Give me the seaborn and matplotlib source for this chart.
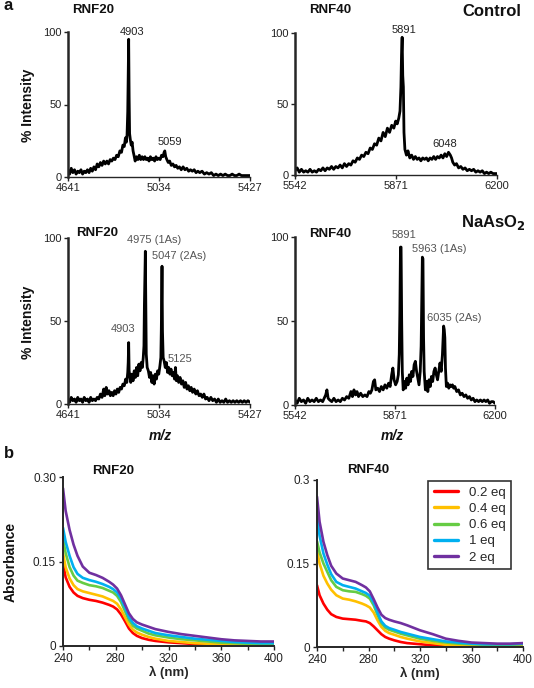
import matplotlib
matplotlib.use("Agg")
import matplotlib.pyplot as plt
import seaborn as sns
import pandas as pd

# ===============================
# DATA
# ===============================
# mass spectra: (m/z, % intensity)
ms_rnf20_ctrl = [
    (4641, 5), (4648, 2), (4655, 6), (4662, 3), (4669, 5), (4676, 2), (4683, 4), (4690, 3),
    (4697, 5), (4704, 2), (4711, 4), (4718, 3), (4725, 5), (4732, 3), (4739, 6), (4746, 4),
    (4753, 7), (4760, 5), (4767, 9), (4774, 7), (4781, 10), (4788, 8), (4795, 11), (4802, 9),
    (4809, 11), (4816, 9), (4823, 12), (4830, 11), (4837, 13), (4844, 12), (4851, 15), (4858, 14),
    (4865, 18), (4872, 17), (4878, 22), (4884, 21), (4889, 27), (4893, 24), (4896, 29), (4899, 45),
    (4901, 70), (4903, 95), (4905, 55), (4907, 30), (4910, 26), (4914, 22), (4918, 24), (4922, 18),
    (4926, 15), (4931, 11), (4937, 14), (4943, 12), (4949, 15), (4955, 12), (4961, 14), (4967, 12),
    (4973, 14), (4979, 12), (4985, 13), (4991, 11), (4997, 14), (5003, 12), (5009, 13), (5015, 11),
    (5021, 14), (5027, 12), (5033, 13), (5039, 12), (5045, 15), (5051, 14), (5056, 17), (5059, 18),
    (5063, 14), (5068, 12), (5074, 10), (5080, 11), (5087, 8), (5094, 9), (5101, 7), (5108, 8),
    (5115, 6), (5122, 7), (5130, 5), (5138, 7), (5146, 5), (5154, 6), (5162, 4), (5170, 5),
    (5178, 4), (5186, 5), (5194, 3), (5202, 4), (5210, 3), (5220, 4), (5230, 2), (5240, 3),
    (5250, 2), (5260, 3), (5270, 1), (5280, 2), (5290, 1), (5300, 2), (5310, 1), (5320, 2),
    (5330, 1), (5340, 1), (5350, 2), (5360, 1), (5370, 1), (5380, 2), (5390, 1), (5400, 1),
    (5410, 1), (5420, 1), (5427, 1),
]

ms_rnf40_ctrl = [
    (5542, 3), (5549, 5), (5556, 2), (5563, 4), (5570, 2), (5577, 3), (5584, 2), (5591, 4),
    (5598, 2), (5605, 3), (5612, 2), (5619, 4), (5626, 3), (5633, 5), (5640, 3), (5647, 5),
    (5654, 4), (5661, 6), (5668, 4), (5675, 6), (5682, 5), (5689, 7), (5696, 5), (5703, 8),
    (5710, 6), (5717, 8), (5724, 7), (5731, 10), (5738, 9), (5745, 12), (5752, 11), (5759, 14),
    (5766, 13), (5773, 16), (5780, 15), (5787, 19), (5794, 18), (5801, 22), (5808, 21), (5815, 26),
    (5822, 24), (5829, 30), (5836, 27), (5843, 33), (5850, 30), (5857, 35), (5864, 33), (5870, 38),
    (5875, 36), (5880, 40), (5884, 45), (5887, 62), (5889, 85), (5891, 97), (5893, 70), (5895, 62),
    (5897, 30), (5900, 18), (5905, 14), (5910, 17), (5916, 12), (5922, 14), (5928, 11), (5934, 13),
    (5940, 11), (5946, 12), (5952, 10), (5958, 12), (5964, 11), (5970, 12), (5976, 10), (5982, 12),
    (5988, 11), (5994, 13), (6000, 11), (6006, 13), (6012, 12), (6018, 14), (6024, 12), (6030, 15),
    (6036, 13), (6042, 16), (6048, 14), (6052, 12), (6056, 9), (6062, 7), (6068, 8), (6075, 5),
    (6082, 6), (6089, 4), (6096, 5), (6103, 3), (6110, 4), (6117, 3), (6124, 4), (6131, 2),
    (6138, 3), (6145, 2), (6152, 3), (6159, 1), (6166, 2), (6173, 1), (6180, 2), (6187, 1),
    (6194, 1), (6200, 1),
]

ms_rnf20_as = [
    (4641, 3), (4648, 1), (4655, 4), (4662, 2), (4669, 3), (4676, 1), (4683, 4), (4690, 2),
    (4697, 3), (4704, 1), (4711, 4), (4718, 2), (4725, 3), (4732, 1), (4739, 4), (4746, 2),
    (4753, 3), (4760, 2), (4767, 4), (4774, 3), (4781, 6), (4788, 4), (4795, 9), (4800, 5),
    (4806, 10), (4812, 6), (4818, 8), (4824, 5), (4830, 7), (4836, 5), (4842, 8), (4848, 6),
    (4854, 9), (4860, 7), (4866, 10), (4872, 9), (4878, 12), (4884, 11), (4890, 15), (4895, 13),
    (4899, 19), (4901, 25), (4903, 37), (4905, 20), (4908, 17), (4912, 13), (4917, 18), (4922, 14),
    (4927, 20), (4932, 16), (4937, 22), (4942, 17), (4947, 24), (4952, 20), (4957, 25), (4962, 22),
    (4966, 28), (4969, 35), (4971, 60), (4973, 75), (4975, 92), (4977, 58), (4979, 30), (4983, 22),
    (4988, 20), (4993, 16), (4998, 19), (5003, 13), (5008, 17), (5013, 12), (5018, 18), (5023, 15),
    (5028, 20), (5033, 18), (5038, 23), (5042, 28), (5044, 45), (5047, 83), (5049, 44), (5052, 28),
    (5056, 26), (5061, 22), (5066, 25), (5071, 19), (5076, 22), (5081, 18), (5086, 21), (5091, 17),
    (5096, 19), (5101, 15), (5105, 22), (5109, 14), (5114, 17), (5119, 13), (5125, 16), (5131, 12),
    (5137, 14), (5143, 10), (5149, 13), (5155, 9), (5161, 11), (5167, 8), (5173, 10), (5179, 7),
    (5186, 9), (5193, 6), (5200, 8), (5207, 5), (5214, 6), (5221, 4), (5228, 6), (5235, 3),
    (5242, 4), (5250, 2), (5258, 4), (5266, 2), (5274, 3), (5282, 1), (5290, 3), (5298, 1),
    (5306, 2), (5314, 1), (5322, 3), (5330, 1), (5338, 2), (5346, 1), (5354, 2), (5362, 1),
    (5370, 2), (5378, 1), (5386, 2), (5394, 1), (5402, 2), (5410, 1), (5418, 2), (5427, 1),
]

ms_rnf40_as = [
    (5542, 3), (5549, 1), (5556, 4), (5563, 2), (5570, 3), (5577, 1), (5584, 4), (5591, 2),
    (5598, 3), (5605, 2), (5612, 4), (5619, 2), (5626, 3), (5633, 2), (5638, 4), (5643, 6),
    (5647, 9), (5651, 4), (5656, 3), (5663, 2), (5670, 4), (5677, 2), (5684, 3), (5691, 2),
    (5698, 4), (5705, 3), (5712, 5), (5719, 4), (5726, 8), (5731, 5), (5736, 9), (5741, 6),
    (5746, 8), (5751, 5), (5758, 7), (5765, 5), (5772, 6), (5779, 5), (5785, 8), (5790, 7),
    (5795, 9), (5800, 14), (5804, 15), (5808, 9), (5814, 10), (5820, 8), (5826, 11), (5832, 9),
    (5838, 12), (5844, 10), (5850, 13), (5855, 11), (5860, 18), (5864, 22), (5868, 15), (5873, 12),
    (5878, 14), (5882, 18), (5885, 30), (5887, 55), (5889, 94), (5891, 94), (5893, 50), (5895, 20),
    (5898, 9), (5902, 14), (5906, 10), (5910, 16), (5914, 12), (5918, 18), (5922, 14), (5926, 20),
    (5930, 17), (5934, 24), (5938, 26), (5942, 20), (5946, 16), (5950, 12), (5954, 20), (5957, 35),
    (5959, 60), (5961, 88), (5963, 87), (5965, 40), (5967, 20), (5971, 9), (5975, 14), (5979, 8),
    (5983, 15), (5987, 11), (5991, 17), (5995, 14), (5999, 20), (6003, 22), (6007, 18), (6011, 15),
    (6015, 20), (6019, 25), (6023, 20), (6027, 30), (6031, 47), (6033, 45), (6035, 40), (6037, 22),
    (6040, 11), (6044, 13), (6048, 10), (6052, 12), (6056, 11), (6060, 12), (6064, 10), (6068, 11),
    (6074, 8), (6080, 9), (6086, 6), (6092, 7), (6098, 5), (6104, 6), (6110, 4), (6116, 5),
    (6122, 3), (6128, 4), (6134, 2), (6140, 3), (6146, 2), (6152, 3), (6158, 2), (6164, 3),
    (6170, 2), (6176, 3), (6182, 1), (6188, 2), (6194, 2), (6200, 1),
]

# peak labels: (text, m/z, intensity, ha)
peaks_rnf20_ctrl = [("4903", 4917, 100, "center"), ("5059", 5082, 24, "center")]
peaks_rnf40_ctrl = [("5891", 5897, 102, "center"), ("6048", 6031, 22, "center")]
peaks_rnf20_as = [("4975 (1As)", 4896, 99, "left"), ("5047 (2As)", 5004, 89, "left"),
                  ("4903", 4879, 45, "center"), ("5125", 5125, 27, "center")]
peaks_rnf40_as = [("5891", 5901, 101, "center"), ("5963 (1As)", 5927, 93, "left"),
                  ("6035 (2As)", 5976, 52, "left")]

# UV-vis titration
wavelength = [240, 242, 245, 248, 251, 255, 260, 265, 270, 275, 278, 281, 284, 287, 290,
              293, 296, 300, 305, 310, 320, 330, 340, 350, 360, 370, 380, 390, 400]
eq_labels = ["0.2 eq", "0.4 eq", "0.6 eq", "1 eq", "2 eq"]
eq_colors = ["#ff0000", "#ffc000", "#66cc44", "#00b0f0", "#7030a0"]

uv_rnf20 = {
    "0.2 eq": [0.147, 0.122, 0.105, 0.095, 0.089, 0.085, 0.082, 0.080, 0.077, 0.073, 0.070, 0.065,
               0.056, 0.044, 0.031, 0.023, 0.018, 0.014, 0.011, 0.009, 0.0065, 0.005, 0.0035,
               0.003, 0.002, 0.0015, 0.001, 0.001, 0.001],
    "0.4 eq": [0.165, 0.140, 0.120, 0.108, 0.101, 0.097, 0.094, 0.091, 0.088, 0.083, 0.080, 0.075,
               0.065, 0.051, 0.038, 0.029, 0.024, 0.020, 0.016, 0.013, 0.009, 0.007, 0.005,
               0.004, 0.003, 0.002, 0.001, 0.001, 0.000],
    "0.6 eq": [0.190, 0.165, 0.140, 0.125, 0.116, 0.112, 0.108, 0.106, 0.103, 0.098, 0.095, 0.089,
               0.078, 0.062, 0.046, 0.036, 0.031, 0.027, 0.022, 0.019, 0.015, 0.012, 0.010,
               0.008, 0.006, 0.005, 0.004, 0.003, 0.003],
    "1 eq":   [0.210, 0.185, 0.160, 0.140, 0.128, 0.121, 0.117, 0.114, 0.110, 0.105, 0.101, 0.095,
               0.084, 0.068, 0.051, 0.041, 0.035, 0.031, 0.027, 0.023, 0.019, 0.016, 0.013,
               0.011, 0.009, 0.007, 0.006, 0.005, 0.005],
    "2 eq":   [0.280, 0.240, 0.206, 0.180, 0.160, 0.141, 0.130, 0.126, 0.121, 0.114, 0.109, 0.102,
               0.090, 0.074, 0.058, 0.048, 0.042, 0.038, 0.034, 0.030, 0.025, 0.021, 0.018,
               0.015, 0.012, 0.010, 0.009, 0.008, 0.008],
}
uv_rnf40 = {
    "0.2 eq": [0.111, 0.093, 0.078, 0.067, 0.059, 0.054, 0.051, 0.050, 0.049, 0.047, 0.046, 0.043,
               0.037, 0.030, 0.023, 0.018, 0.015, 0.012, 0.009, 0.007, 0.005, 0.003, 0.002,
               0.0015, 0.001, 0.001, 0.001, 0.001, 0.001],
    "0.4 eq": [0.174, 0.150, 0.128, 0.114, 0.103, 0.093, 0.087, 0.085, 0.082, 0.078, 0.075, 0.071,
               0.062, 0.048, 0.036, 0.029, 0.025, 0.022, 0.018, 0.015, 0.010, 0.007, 0.004,
               0.003, 0.002, 0.001, 0.001, 0.001, 0.001],
    "0.6 eq": [0.190, 0.170, 0.150, 0.135, 0.120, 0.108, 0.102, 0.100, 0.099, 0.095, 0.092, 0.087,
               0.075, 0.058, 0.043, 0.035, 0.031, 0.028, 0.024, 0.021, 0.015, 0.011, 0.008,
               0.006, 0.005, 0.004, 0.004, 0.004, 0.005],
    "1 eq":   [0.234, 0.200, 0.168, 0.148, 0.131, 0.117, 0.111, 0.108, 0.105, 0.100, 0.097, 0.092,
               0.080, 0.062, 0.046, 0.038, 0.034, 0.031, 0.027, 0.024, 0.018, 0.014, 0.010,
               0.008, 0.006, 0.005, 0.005, 0.005, 0.006],
    "2 eq":   [0.270, 0.225, 0.189, 0.165, 0.146, 0.132, 0.123, 0.120, 0.117, 0.111, 0.107, 0.100,
               0.086, 0.071, 0.058, 0.052, 0.049, 0.046, 0.043, 0.039, 0.030, 0.023, 0.015,
               0.011, 0.008, 0.007, 0.006, 0.006, 0.007],
}

# ===============================
# STYLE
# ===============================
sns.set_style("ticks")
plt.rcParams["font.family"] = ["Liberation Sans", "DejaVu Sans"]
plt.rcParams["axes.linewidth"] = 1.0

W, H = 534, 688
fig = plt.figure(figsize=(W / 100, H / 100), dpi=100)


def fx(px):
    return px / W


def fy(py):
    return 1 - py / H


def add_ax(x0, y0, x1, y1):
    # pixel box -> figure axes
    return fig.add_axes([fx(x0), fy(y1), fx(x1) - fx(x0), fy(y0) - fy(y1)])


# ===============================
# PANEL a: mass spectra
# ===============================
def ms_panel(ax, spec, xticks, peaks, label_color):
    df = pd.DataFrame(spec, columns=["mz", "intensity"])
    sns.lineplot(data=df, x="mz", y="intensity", color="black", lw=2.0, ax=ax,
                 estimator=None, sort=False)
    ax.set_xlim(xticks[0], xticks[-1])
    ax.set_ylim(0, 100)
    ax.set_xticks(xticks)
    ax.set_yticks([0, 50, 100])
    ax.set_xlabel("")
    ax.set_ylabel("")
    sns.despine(ax=ax)
    ax.spines["left"].set_linewidth(1.8)
    ax.spines["bottom"].set_linewidth(1.0)
    ax.tick_params(labelsize=8, length=3, width=1, colors="#222", pad=1.5)
    for txt, x, y, ha in peaks:
        ax.text(x, y, txt, ha=ha, va="center", fontsize=8, color=label_color, clip_on=False)


ax1 = add_ax(68, 32, 250, 177)
ms_panel(ax1, ms_rnf20_ctrl, [4641, 5034, 5427], peaks_rnf20_ctrl, "#222")
ax2 = add_ax(295, 33, 497, 175)
ms_panel(ax2, ms_rnf40_ctrl, [5542, 5871, 6200], peaks_rnf40_ctrl, "#222")
ax3 = add_ax(68, 238, 250, 404)
ms_panel(ax3, ms_rnf20_as, [4641, 5034, 5427], peaks_rnf20_as, "#555")
ax4 = add_ax(295, 237, 495, 405)
ms_panel(ax4, ms_rnf40_as, [5542, 5871, 6200], peaks_rnf40_as, "#555")

# ===============================
# PANEL b: UV-vis
# ===============================
def uv_panel(ax, curves, ylabels):
    for lab, col in zip(eq_labels, eq_colors):
        sns.lineplot(x=wavelength, y=curves[lab], color=col, lw=1.9, ax=ax, label=lab)
    ax.set_xlim(240, 400)
    ax.set_ylim(0, 0.30)
    ax.set_xticks([240, 280, 320, 360, 400])
    ax.set_xticks([260, 300, 340, 380], minor=True)
    ax.set_yticks([0, 0.15, 0.30])
    ax.set_yticklabels(ylabels)
    sns.despine(ax=ax)
    ax.spines["left"].set_linewidth(1.4)
    ax.spines["bottom"].set_linewidth(1.4)
    ax.tick_params(labelsize=8.5, length=3, width=1, colors="#222", pad=2)
    ax.tick_params(which="minor", length=3, width=1)
    ax.set_xlabel("λ (nm)", fontsize=9.5, fontweight="bold", labelpad=1)
    ax.set_ylabel("")


ax5 = add_ax(63, 477, 274, 646)
uv_panel(ax5, uv_rnf20, ["0", "0.15", "0.30"])
ax5.get_legend().remove()
ax6 = add_ax(317, 480, 523, 647)
uv_panel(ax6, uv_rnf40, ["0", "0.15", "0.3"])
leg = ax6.legend(loc="upper right", bbox_to_anchor=(fx(518), fy(474)),
                 bbox_transform=fig.transFigure, fontsize=9.5, frameon=True,
                 fancybox=False, edgecolor="black", handlelength=1.8,
                 labelspacing=0.3, borderpad=0.45, handletextpad=0.8)
leg.get_frame().set_linewidth(1.2)
for line in leg.get_lines():
    line.set_linewidth(2.4)

# ===============================
# TEXT
# ===============================
bold = dict(fontweight="bold", color="#111")
fig.text(fx(4), fy(6), "a", fontsize=12, ha="left", va="center", **bold)
fig.text(fx(4), fy(454), "b", fontsize=12, ha="left", va="center", **bold)
fig.text(fx(93), fy(10), "RNF20", fontsize=9.5, ha="center", va="center", **bold)
fig.text(fx(330), fy(10), "RNF40", fontsize=9.5, ha="center", va="center", **bold)
fig.text(fx(492), fy(12), "Control", fontsize=12, ha="center", va="center", **bold)
fig.text(fx(97), fy(233), "RNF20", fontsize=9.5, ha="center", va="center", **bold)
fig.text(fx(330), fy(234), "RNF40", fontsize=9.5, ha="center", va="center", **bold)
fig.text(fx(493), fy(222), "NaAsO$_\\mathbf{2}$", fontsize=12, ha="center", va="center", **bold)
fig.text(fx(113), fy(471), "RNF20", fontsize=9.5, ha="center", va="center", **bold)
fig.text(fx(368), fy(470), "RNF40", fontsize=9.5, ha="center", va="center", **bold)
fig.text(fx(28), fy(105), "% Intensity", fontsize=10, rotation=90, ha="center", va="center", **bold)
fig.text(fx(28), fy(322), "% Intensity", fontsize=10, rotation=90, ha="center", va="center", **bold)
fig.text(fx(160), fy(436), "m/z", fontsize=10, style="italic", ha="center", va="center", **bold)
fig.text(fx(392), fy(436), "m/z", fontsize=10, style="italic", ha="center", va="center", **bold)
fig.text(fx(11), fy(562), "Absorbance", fontsize=10, rotation=90, ha="center", va="center", **bold)

fig.savefig("out.png", dpi=100)
